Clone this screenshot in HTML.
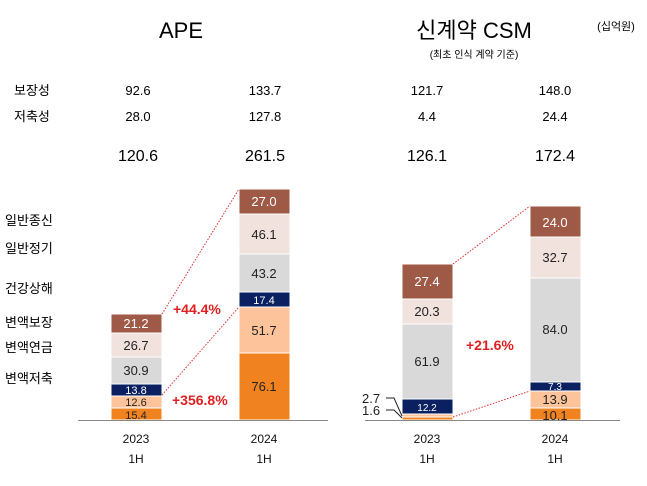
<!DOCTYPE html>
<html><head><meta charset="utf-8"><style>
html,body{margin:0;padding:0;background:#fff}
svg{display:block}
text{font-family:"Liberation Sans","Noto Sans CJK KR",sans-serif}
</style></head><body>
<svg width="647" height="486" viewBox="0 0 647 486" xmlns="http://www.w3.org/2000/svg">
<g fill="#000">
<text x="181" y="38" font-size="22" text-anchor="middle">APE</text>
<text x="474" y="38" font-size="22" text-anchor="middle">신계약 CSM</text>
<text x="616" y="30" font-size="11" text-anchor="middle">(십억원)</text>
<text x="474" y="58" font-size="10" text-anchor="middle">(최초 인식 계약 기준)</text>
<g font-size="13">
<text x="14" y="95">보장성</text><text x="14" y="121">저축성</text>
<text x="138" y="95" text-anchor="middle">92.6</text><text x="265" y="95" text-anchor="middle">133.7</text>
<text x="427" y="95" text-anchor="middle">121.7</text><text x="555" y="95" text-anchor="middle">148.0</text>
<text x="138" y="121" text-anchor="middle">28.0</text><text x="265" y="121" text-anchor="middle">127.8</text>
<text x="427" y="121" text-anchor="middle">4.4</text><text x="555" y="121" text-anchor="middle">24.4</text>
</g>
<g font-size="16">
<text x="138" y="161" text-anchor="middle">120.6</text><text x="265" y="161" text-anchor="middle">261.5</text>
<text x="427" y="161" text-anchor="middle">126.1</text><text x="555" y="161" text-anchor="middle">172.4</text>
</g>
<g font-size="13">
<text x="5" y="225">일반종신</text><text x="5" y="253">일반정기</text>
<text x="5" y="293">건강상해</text><text x="5" y="327">변액보장</text>
<text x="5" y="352">변액연금</text><text x="5" y="383">변액저축</text>
</g>
</g>
<g stroke="#fff" stroke-width="1">
<rect x="111" y="314" width="51" height="19" fill="#9e5a46"/>
<rect x="111" y="333" width="51" height="24" fill="#f2e2de"/>
<rect x="111" y="357" width="51" height="27" fill="#d9d9d9"/>
<rect x="111" y="384" width="51" height="12" fill="#0a2060"/>
<rect x="111" y="396" width="51" height="12" fill="#fdc39a"/>
<rect x="111" y="408" width="51" height="12" fill="#f08320"/>
<rect x="239" y="189" width="51" height="25" fill="#9e5a46"/>
<rect x="239" y="214" width="51" height="40" fill="#f2e2de"/>
<rect x="239" y="254" width="51" height="38" fill="#d9d9d9"/>
<rect x="239" y="292" width="51" height="15" fill="#0a2060"/>
<rect x="239" y="307" width="51" height="46" fill="#fdc39a"/>
<rect x="239" y="353" width="51" height="67" fill="#f08320"/>
<rect x="402" y="264" width="51" height="35" fill="#9e5a46"/>
<rect x="402" y="299" width="51" height="25" fill="#f2e2de"/>
<rect x="402" y="324" width="51" height="75" fill="#d9d9d9"/>
<rect x="402" y="399" width="51" height="15" fill="#0a2060"/>
<rect x="402" y="414" width="51" height="3" fill="#fdc39a"/>
<rect x="402" y="417" width="51" height="3" fill="#f08320"/>
<rect x="530" y="206" width="51" height="31" fill="#9e5a46"/>
<rect x="530" y="237" width="51" height="41" fill="#f2e2de"/>
<rect x="530" y="278" width="51" height="104" fill="#d9d9d9"/>
<rect x="530" y="382" width="51" height="9" fill="#0a2060"/>
<rect x="530" y="391" width="51" height="17" fill="#fdc39a"/>
<rect x="530" y="408" width="51" height="12" fill="#f08320"/>
</g>
<line x1="78" y1="420.5" x2="328" y2="420.5" stroke="#888"/>
<line x1="365" y1="420.5" x2="620" y2="420.5" stroke="#888"/>
<g stroke="#e03030" stroke-dasharray="1.5,1.5" stroke-width="1" fill="none">
<line x1="162" y1="314" x2="239" y2="189"/>
<line x1="162" y1="395" x2="239" y2="307"/>
<line x1="453" y1="264" x2="530" y2="206"/>
<line x1="453" y1="417" x2="530" y2="391"/>
</g>
<g fill="#e02020" font-size="14" font-weight="bold">
<text x="173" y="314">+44.4%</text>
<text x="172" y="405">+356.8%</text>
<text x="466" y="350">+21.6%</text>
</g>
<g text-anchor="middle" font-size="13" fill="#222">
<text x="136" y="328" fill="#fff">21.2</text>
<text x="136" y="350">26.7</text>
<text x="136" y="375">30.9</text>
<text x="136" y="394" font-size="11" fill="#fff">13.8</text>
<text x="136" y="406" font-size="11">12.6</text>
<text x="136" y="419" font-size="11">15.4</text>
<text x="264" y="206" fill="#fff">27.0</text>
<text x="264" y="239">46.1</text>
<text x="264" y="278">43.2</text>
<text x="264" y="304" font-size="11" fill="#fff">17.4</text>
<text x="264" y="335">51.7</text>
<text x="264" y="391">76.1</text>
<text x="427" y="286" fill="#fff">27.4</text>
<text x="427" y="316">20.3</text>
<text x="427" y="366">61.9</text>
<text x="427" y="411" font-size="10" fill="#fff">12.2</text>
<text x="555" y="227" fill="#fff">24.0</text>
<text x="555" y="262">32.7</text>
<text x="555" y="334">84.0</text>
<text x="555" y="390" font-size="10" fill="#fff">7.3</text>
<text x="555" y="404">13.9</text>
<text x="555" y="420">10.1</text>
</g>
<g font-size="13" fill="#222">
<text x="362" y="403">2.7</text><text x="362" y="415">1.6</text>
</g>
<g stroke="#222" fill="none" stroke-width="1">
<polyline points="386,398 394,398 402,416"/>
<polyline points="386,410 394,410 402,418"/>
</g>
<g font-size="12" fill="#111" text-anchor="middle">
<text x="136" y="443">2023</text><text x="136" y="463">1H</text>
<text x="264" y="443">2024</text><text x="264" y="463">1H</text>
<text x="427" y="443">2023</text><text x="427" y="463">1H</text>
<text x="555" y="443">2024</text><text x="555" y="463">1H</text>
</g>
</svg>
</body></html>
